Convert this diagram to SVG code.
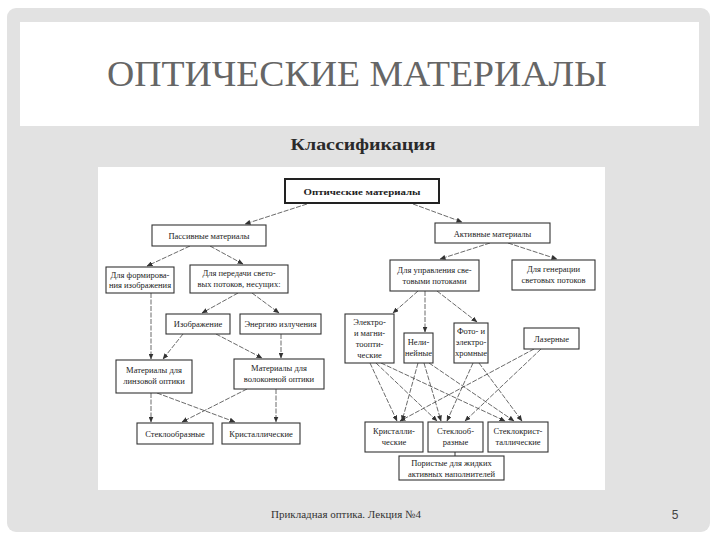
<svg xmlns="http://www.w3.org/2000/svg" width="720" height="540" viewBox="0 0 720 540">
<defs>
<style>
.bx{fill:#fff;stroke:#333;stroke-width:1.1}
.t{font-family:"Liberation Serif","DejaVu Serif",serif;font-size:8.5px;fill:#222;text-anchor:middle}
.c{fill:none;stroke:#444;stroke-width:0.8;stroke-dasharray:5 1.5;marker-end:url(#ah)}
</style>
<marker id="ah" markerUnits="userSpaceOnUse" markerWidth="6" markerHeight="5" refX="5.5" refY="2.5" orient="auto">
<path d="M0,0 L6,2.5 L0,5 Z" fill="#333"/>
</marker>
</defs>
<rect x="0" y="0" width="720" height="540" fill="#fff"/>
<rect x="7" y="8" width="703" height="524" rx="9" fill="#e2e2e2"/>
<rect x="20" y="22" width="679" height="104" fill="#fff"/>
<text x="357" y="86" font-family="Liberation Serif, serif" font-size="35" fill="#666" text-anchor="middle" textLength="500" lengthAdjust="spacingAndGlyphs">ОПТИЧЕСКИЕ МАТЕРИАЛЫ</text>
<text x="363" y="150" font-family="Liberation Serif, serif" font-size="16" font-weight="bold" fill="#2a2a2a" text-anchor="middle" textLength="145" lengthAdjust="spacingAndGlyphs">Классификация</text>
<rect x="98" y="167" width="507" height="323" fill="#fff"/>

<g id="connectors">
<line class="c" x1="307" y1="204" x2="245" y2="224"/>
<line class="c" x1="413" y1="204" x2="462" y2="222"/>
<line class="c" x1="190" y1="246" x2="147" y2="266"/>
<line class="c" x1="210" y1="246" x2="243" y2="264"/>
<line class="c" x1="238" y1="293" x2="202" y2="313"/>
<line class="c" x1="252" y1="293" x2="279" y2="313"/>
<line class="c" x1="151" y1="293" x2="151" y2="359"/>
<line class="c" x1="183" y1="334" x2="163" y2="359"/>
<line class="c" x1="216" y1="334" x2="262" y2="358"/>
<line class="c" x1="281" y1="334" x2="281" y2="358"/>
<line class="c" x1="151" y1="393" x2="151" y2="422"/>
<line class="c" x1="157" y1="393" x2="235" y2="422"/>
<line class="c" x1="247" y1="389" x2="182" y2="422"/>
<line class="c" x1="276" y1="389" x2="276" y2="422"/>
<line class="c" x1="490" y1="243" x2="440" y2="259"/>
<line class="c" x1="508" y1="243" x2="557" y2="259"/>
<line class="c" x1="418" y1="291" x2="393" y2="313"/>
<line class="c" x1="425" y1="291" x2="425" y2="332"/>
<line class="c" x1="437" y1="291" x2="477" y2="322"/>
<line class="c" x1="370" y1="363" x2="397" y2="421"/>
<line class="c" x1="376" y1="363" x2="437" y2="421"/>
<line class="c" x1="381" y1="363" x2="505" y2="421"/>
<line class="c" x1="418" y1="363" x2="402" y2="421"/>
<line class="c" x1="424" y1="363" x2="441" y2="421"/>
<line class="c" x1="429" y1="363" x2="514" y2="421"/>
<line class="c" x1="473" y1="363" x2="447" y2="421"/>
<line class="c" x1="479" y1="363" x2="522" y2="421"/>
<line class="c" x1="534" y1="349" x2="400" y2="421"/>
<line class="c" x1="541" y1="349" x2="465" y2="421"/>
<line x1="455" y1="452" x2="455" y2="456" stroke="#333" stroke-width="1"/>
</g>

<g id="n-optical"><rect x="285" y="179" width="154" height="24" fill="#fff" stroke="#222" stroke-width="2"/><text class="t" x="362" y="195" font-size="11" font-weight="bold" textLength="117" lengthAdjust="spacingAndGlyphs">Оптические материалы</text></g>
<g id="n-passive"><rect class="bx" x="152" y="225" width="114" height="21"/><text class="t" x="209" y="239">Пассивные материалы</text></g>
<g id="n-active"><rect class="bx" x="435" y="223" width="115" height="20"/><text class="t" x="492.5" y="236.5">Активные материалы</text></g>
<g id="n-form"><rect class="bx" x="106" y="267" width="68" height="26"/><text class="t" x="140" y="277.5">Для формирова-</text><text class="t" x="140" y="288">ния изображения</text></g>
<g id="n-transfer"><rect class="bx" x="190" y="265" width="98" height="28"/><text class="t" x="239" y="276">Для передачи свето-</text><text class="t" x="239" y="287">вых потоков, несущих:</text></g>
<g id="n-control"><rect class="bx" x="390" y="260" width="89" height="31"/><text class="t" x="434.5" y="272.5">Для управления све-</text><text class="t" x="434.5" y="283.5">товыми потоками</text></g>
<g id="n-gen"><rect class="bx" x="512" y="260" width="83" height="30"/><text class="t" x="553.5" y="272">Для генерации</text><text class="t" x="553.5" y="283">световых потоков</text></g>
<g id="n-image"><rect class="bx" x="166" y="314" width="64" height="20"/><text class="t" x="198" y="327">Изображение</text></g>
<g id="n-energy"><rect class="bx" x="240" y="314" width="81" height="20"/><text class="t" x="280.5" y="327">Энергию излучения</text></g>
<g id="n-lens"><rect class="bx" x="116" y="360" width="76" height="33"/><text class="t" x="154" y="373">Материалы для</text><text class="t" x="154" y="384">линзовой оптики</text></g>
<g id="n-fiber"><rect class="bx" x="234" y="359" width="90" height="30"/><text class="t" x="279" y="371">Материалы для</text><text class="t" x="279" y="382">волоконной оптики</text></g>
<g id="n-glassL"><rect class="bx" x="137" y="423" width="76" height="21"/><text class="t" x="175" y="436.5">Стеклообразные</text></g>
<g id="n-crystL"><rect class="bx" x="222" y="423" width="78" height="21"/><text class="t" x="261" y="436.5">Кристаллические</text></g>
<g id="n-electro"><rect class="bx" x="345" y="314" width="49" height="49"/><text class="t" x="369.5" y="325">Электро-</text><text class="t" x="369.5" y="336">и магни-</text><text class="t" x="369.5" y="347">тоопти-</text><text class="t" x="369.5" y="358">ческие</text></g>
<g id="n-nonlin"><rect class="bx" x="404" y="333" width="29" height="30"/><text class="t" x="418.5" y="345" font-size="8">Нели-</text><text class="t" x="418.5" y="356" font-size="8">нейные</text></g>
<g id="n-photo"><rect class="bx" x="454" y="323" width="34" height="40"/><text class="t" x="471" y="334" font-size="8">Фото- и</text><text class="t" x="471" y="345" font-size="8">электро-</text><text class="t" x="471" y="356" font-size="8">хромные</text></g>
<g id="n-laser"><rect class="bx" x="524" y="328" width="55" height="21"/><text class="t" x="551.5" y="341.5">Лазерные</text></g>
<g id="n-crystR"><rect class="bx" x="365" y="422" width="58" height="30"/><text class="t" x="394" y="434">Кристалли-</text><text class="t" x="394" y="445">ческие</text></g>
<g id="n-glassR"><rect class="bx" x="428" y="422" width="55" height="30"/><text class="t" x="455.5" y="434">Стеклооб-</text><text class="t" x="455.5" y="445">разные</text></g>
<g id="n-glasscryst"><rect class="bx" x="488" y="422" width="60" height="30"/><text class="t" x="518" y="434">Стеклокрист-</text><text class="t" x="518" y="445">таллические</text></g>
<g id="n-porous"><rect class="bx" x="399" y="456" width="105" height="24"/><text class="t" x="451.5" y="466">Пористые для жидких</text><text class="t" x="451.5" y="476.5">активных наполнителей</text></g>

<text x="271" y="518" font-family="Liberation Serif, serif" font-size="11" fill="#333">Прикладная оптика. Лекция №4</text>
<text x="675" y="519" font-family="Liberation Sans, sans-serif" font-size="12" fill="#444" text-anchor="middle">5</text>
</svg>
